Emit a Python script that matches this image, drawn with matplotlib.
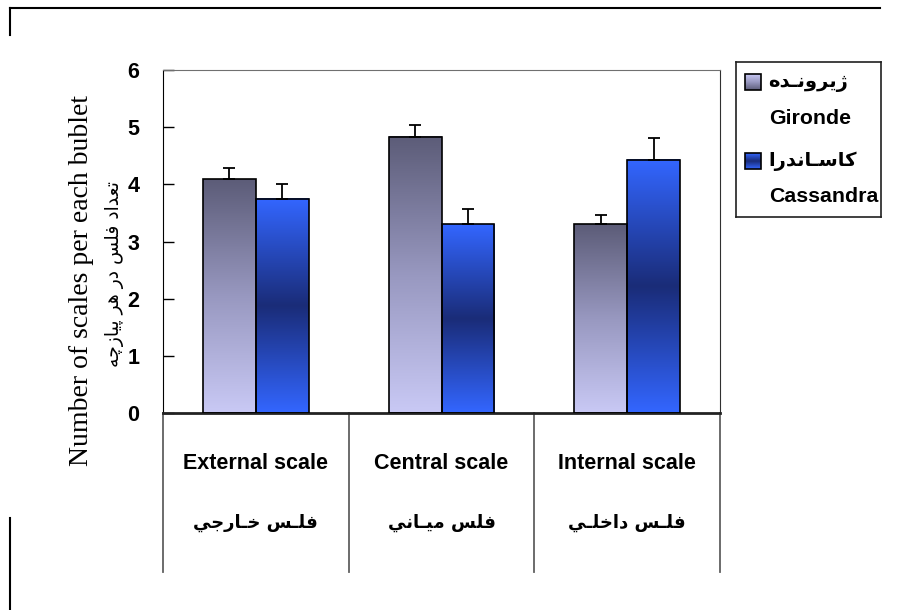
import numpy as np
import matplotlib
matplotlib.use('Agg')
import matplotlib.pyplot as plt
from matplotlib.colors import LinearSegmentedColormap
from matplotlib.patches import Rectangle

# data
categories_en = ['External scale', 'Central scale', 'Internal scale']
categories_fa = ['فلـس خـارجي', 'فلس ميـاني', 'فلـس داخلـي']
series_en = ['Gironde', 'Cassandra']
series_fa = ['ژيرونـده', 'كاسـاندرا']
gironde = [4.09, 4.83, 3.30]
gironde_err = [0.19, 0.21, 0.17]
cassandra = [3.75, 3.30, 4.43]
cassandra_err = [0.25, 0.26, 0.38]
yticks = [0, 1, 2, 3, 4, 5, 6]
ylabel_en = 'Number of scales per each bublet'
ylabel_fa = 'تعداد فلس در هر پيازچه'

# crude arabic shaping (matplotlib has no complex text layout)
FORMS = {
    'ا': ('\uFE8D', '\uFE8E'), 'د': ('\uFEA9', '\uFEAA'), 'ذ': ('\uFEAB', '\uFEAC'),
    'ر': ('\uFEAD', '\uFEAE'), 'ز': ('\uFEAF', '\uFEB0'), 'ژ': ('\uFB8A', '\uFB8B'),
    'و': ('\uFEED', '\uFEEE'),
    'ت': ('\uFE95', '\uFE96', '\uFE97', '\uFE98'), 'ع': ('\uFEC9', '\uFECA', '\uFECB', '\uFECC'),
    'ف': ('\uFED1', '\uFED2', '\uFED3', '\uFED4'), 'ل': ('\uFEDD', '\uFEDE', '\uFEDF', '\uFEE0'),
    'س': ('\uFEB1', '\uFEB2', '\uFEB3', '\uFEB4'), 'ه': ('\uFEE9', '\uFEEA', '\uFEEB', '\uFEEC'),
    'پ': ('\uFB56', '\uFB57', '\uFB58', '\uFB59'), 'ي': ('\uFEF1', '\uFEF2', '\uFEF3', '\uFEF4'),
    'چ': ('\uFB7A', '\uFB7B', '\uFB7C', '\uFB7D'), 'ج': ('\uFE9D', '\uFE9E', '\uFE9F', '\uFEA0'),
    'خ': ('\uFEA5', '\uFEA6', '\uFEA7', '\uFEA8'), 'م': ('\uFEE1', '\uFEE2', '\uFEE3', '\uFEE4'),
    'ن': ('\uFEE5', '\uFEE6', '\uFEE7', '\uFEE8'), 'ك': ('\uFED9', '\uFEDA', '\uFEDB', '\uFEDC'),
}
TATWEEL = 'ـ'


def dual(c):
    return c == TATWEEL or (c in FORMS and len(FORMS[c]) == 4)


def joins(c):
    return c == TATWEEL or c in FORMS


def shape(s):
    out = []
    for i, c in enumerate(s):
        if c not in FORMS:
            out.append(c)
            continue
        prev = s[i - 1] if i > 0 else ''
        nxt = s[i + 1] if i + 1 < len(s) else ''
        p = dual(prev)
        n = len(FORMS[c]) == 4 and joins(nxt)
        f = FORMS[c]
        if p and n:
            out.append(f[3])
        elif p:
            out.append(f[1])
        elif n:
            out.append(f[2])
        else:
            out.append(f[0])
    return ''.join(out[::-1])


W, H = 897, 610
fig = plt.figure(figsize=(W / 100, H / 100), dpi=100)
fig.patch.set_facecolor('white')

ax = fig.add_axes([163 / W, 1 - 413 / H, (720 - 163) / W, (413 - 70) / H])

cm_g = LinearSegmentedColormap.from_list('g', ['#c9c9f5', '#9898c0', '#5c5c78'])
cm_c = LinearSegmentedColormap.from_list('c', ['#3366ff', '#1a2c78', '#3366ff'])
grad = np.linspace(0, 1, 256).reshape(-1, 1)

x = np.arange(len(categories_en))
w = 0.285
for vals, errs, off, cmap in [(gironde, gironde_err, -w / 2, cm_g),
                              (cassandra, cassandra_err, w / 2, cm_c)]:
    bars = ax.bar(x + off, vals, w, facecolor='none', edgecolor='black', linewidth=1.2, zorder=3)
    ax.errorbar(x + off, vals, yerr=[np.zeros(len(errs)), errs], fmt='none',
                ecolor='black', elinewidth=1.3, capsize=4, capthick=1.3, zorder=4)
    for b in bars:
        x0, y0 = b.get_x(), b.get_y()
        ax.imshow(grad, cmap=cmap, aspect='auto', origin='lower',
                  extent=[x0, x0 + b.get_width(), y0, y0 + b.get_height()], zorder=2)
ax.set_xlim(-0.5, 2.5)
ax.set_ylim(0, 6)

ax.set_xticks([])
ax.set_yticks(yticks)
ax.set_yticklabels([str(t) for t in yticks], fontsize=15.5, fontweight='bold', family='Liberation Sans')
ax.tick_params(axis='y', direction='in', length=8, width=1, pad=17)
ax.spines['top'].set_color('#707070')
ax.spines['right'].set_color('#303030')
ax.spines['bottom'].set_linewidth(2)
ax.spines['bottom'].set_color('#222222')

# category table below the axis
tr = ax.get_xaxis_transform()
lo = -(572 - 413) / (413 - 70)
for xs in [-0.5, 0.5, 1.5, 2.5]:
    ax.plot([xs, xs], [0, lo], transform=tr, color='#606060', lw=1.3, clip_on=False)
for i in range(len(categories_en)):
    ax.text(i, -0.148, categories_en[i], transform=tr, ha='center', va='center',
            fontsize=15.5, fontweight='bold', family='Liberation Sans')
    ax.text(i, -0.32, shape(categories_fa[i]), transform=tr, ha='center', va='center',
            fontsize=13, fontweight='bold', family='DejaVu Sans')

# y label
fig.text(82 / W, 1 - 280 / H, ylabel_en, rotation=90, ha='center', va='center',
         fontsize=20, family='Liberation Serif')
fig.text(115 / W, 1 - 274 / H, shape(ylabel_fa), rotation=90, ha='center', va='center',
         fontsize=13.5, family='DejaVu Sans')

# legend
lg = fig.add_axes([736 / W, 1 - 217 / H, (881 - 736) / W, (217 - 62) / H])
lg.set_xticks([])
lg.set_yticks([])
for s in lg.spines.values():
    s.set_color('#202020')
    s.set_linewidth(1.2)
for j, (cmap, yc) in enumerate([(cm_g, 20), (cm_c, 99)]):
    lg.imshow(grad, cmap=cmap, aspect='auto', origin='upper', extent=[9, 25, yc + 8, yc - 8])
    lg.add_patch(Rectangle((9, yc - 8), 16, 16, facecolor='none', edgecolor='black', lw=1.2))
    lg.text(32, yc, shape(series_fa[j]), ha='left', va='center', fontsize=14,
            fontweight='bold', family='DejaVu Sans')
    lg.text(33, yc + 36, series_en[j], ha='left', va='center', fontsize=15.3,
            fontweight='bold', family='Liberation Sans')
lg.set_xlim(0, 145)
lg.set_ylim(155, 0)

# partial outer frame
fig.add_artist(plt.Line2D([10 / W, 880 / W], [1 - 8 / H, 1 - 8 / H], color='black', lw=1.5))
fig.add_artist(plt.Line2D([10 / W, 10 / W], [1 - 8 / H, 1 - 35 / H], color='black', lw=1.5))
fig.add_artist(plt.Line2D([10 / W, 10 / W], [1 - 518 / H, 0], color='black', lw=1.5))

plt.savefig('out.png', dpi=100, facecolor='white')
